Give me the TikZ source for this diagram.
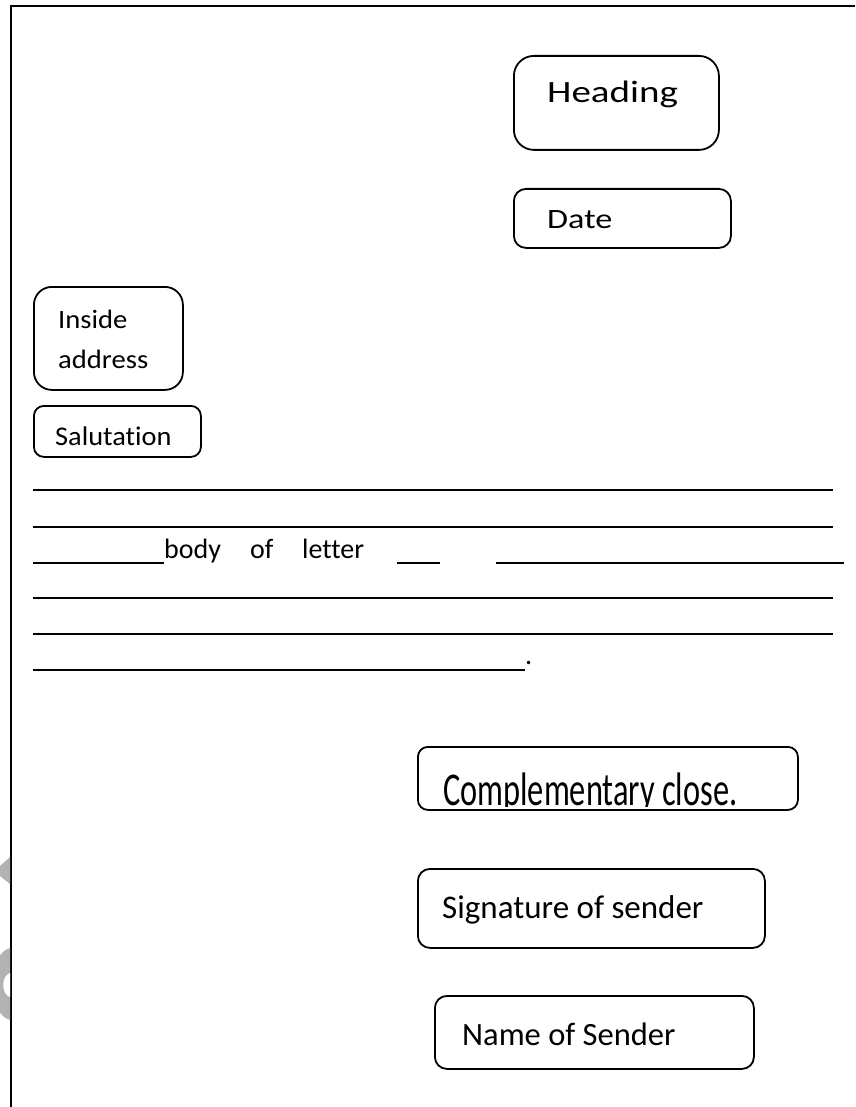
\documentclass[tikz,border=0pt]{standalone}
\usepackage{fontspec}
\setmainfont{Carlito}[Ligatures={NoCommon}]
\begin{document}
\begin{tikzpicture}[x=1pt,y=-1pt,
  box/.style={draw=black, line width=1.8pt, rounded corners=#1, inner sep=0pt, anchor=north west},
  txt/.style={anchor=base west, inner sep=0pt, font=\fontsize{#1}{#1}\selectfont},
  rule/.style={line width=1.8pt, black},
  frame/.style={line width=2pt, black}
]
\useasboundingbox (0,0) rectangle (855,1107);
% page frame
\draw[frame] (11,1107) -- (11,6) -- (855,6);
% faint watermark fragments at the left edge
\fill[black!30] (0,866) -- (10,857) -- (10,884) -- (0,876) -- cycle;
\fill[black!30] (10,948) .. controls (-14,955) and (-14,1013) .. (10,1020) -- cycle;
\fill[white] (10,973) .. controls (1,976) and (1,994) .. (10,997) -- cycle;

% Heading
\node[box=20pt, minimum width=205pt, minimum height=94pt] (heading) at (513,55) {};
\node[txt=31] (headingtext) at (547,103) {\scalebox{1.26}[1]{Heading}};
% Date
\node[box=12pt, minimum width=217pt, minimum height=59pt] (date) at (513,188) {};
\node[txt=28] (datetext) at (547,229) {\scalebox{1.22}[1]{Date}};
% Inside address
\node[box=18pt, minimum width=149pt, minimum height=103pt] (inside) at (33,286) {};
\node[txt=26.5] (insidetext1) at (58,328) {\scalebox{1.08}[1]{Inside}};
\node[txt=26.5] (insidetext2) at (58,368) {\scalebox{1.08}[1]{address}};
% Salutation
\node[box=10pt, minimum width=167pt, minimum height=51pt] (salutation) at (33,405) {};
\node[txt=27] (salutationtext) at (55,445) {\scalebox{1.05}[1]{Salutation}};

% body of letter
\draw[rule] (33,490) -- (833,490);
\draw[rule] (33,527) -- (833,527);
\draw[rule] (33,563) -- (164,563);
\node[txt=28] (bodyw) at (164,558) {body};
\node[txt=28] (ofw) at (250,558) {of};
\node[txt=28] (letterw) at (302,558) {letter};
\draw[rule] (397,563) -- (440,563);
\draw[rule] (496,563) -- (844,563);
\draw[rule] (33,598) -- (833,598);
\draw[rule] (33,634) -- (833,634);
\draw[rule] (33,670) -- (525,670);
\node[txt=28] (dot) at (525,664) {.};

% Complementary close
\node[box=10pt, minimum width=380pt, minimum height=63pt] (close) at (417,746) {};
\begin{scope}
\clip (420,750) rectangle (795,806);
\node[txt=32.4] (closetext) at (443,805) {\scalebox{1}[1.45]{Complementary close.}};
\end{scope}
% Signature
\node[box=12pt, minimum width=347pt, minimum height=79pt] (signature) at (417,868) {};
\node[txt=33] (signaturetext) at (442,918) {Signature of sender};
% Name
\node[box=12pt, minimum width=319pt, minimum height=73pt] (name) at (434,995) {};
\node[txt=32.5] (nametext) at (462,1045) {Name of Sender};
\end{tikzpicture}
\end{document}
